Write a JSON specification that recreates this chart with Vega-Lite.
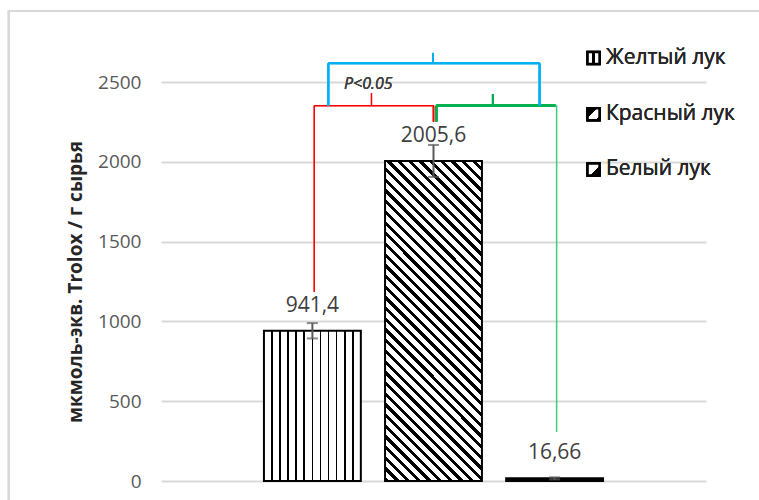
{
  "$schema": "https://vega.github.io/schema/vega-lite/v6.json",
  "width": 545,
  "height": 399,
  "autosize": {"type": "none"},
  "padding": {"left": 161, "top": 82, "right": 53, "bottom": 19},
  "background": "white",
  "config": {
    "font": "Open Sans",
    "view": {"stroke": null},
    "axisX": {"disable": true},
    "locale": {"number": {"decimal": ",", "thousands": "", "grouping": [3], "currency": ["", ""]}}
  },
  "data": {
    "values": [
      {"name": "Желтый лук", "value": 941.4, "lo": 893.4, "hi": 989.4},
      {"name": "Красный лук", "value": 2005.6, "lo": 1905.6, "hi": 2105.6},
      {"name": "Белый лук", "value": 16.66, "lo": 10, "hi": 23}
    ]
  },
  "layer": [
    {
      "mark": {"type": "rect", "fill": null, "stroke": "#d9d9d9", "strokeWidth": 2},
      "encoding": {
        "x": {"datum": "Желтый лук", "bandPosition": -2.634},
        "x2": {"datum": "Белый лук", "bandPosition": 2.9},
        "y": {"datum": 2945},
        "y2": {"datum": -400}
      }
    },
    {
      "mark": {"type": "bar", "strokeWidth": 2, "stroke": "#000000"},
      "encoding": {
        "x": {"field": "name", "type": "nominal", "sort": null,
              "scale": {"domain": ["Желтый лук", "Красный лук", "Белый лук"], "paddingInner": 0.2, "paddingOuter": 0.85},
              "axis": null},
        "y": {"field": "value", "type": "quantitative",
              "scale": {"domain": [0, 2500], "nice": false},
              "axis": {"values": [0, 500, 1000, 1500, 2000, 2500], "format": "d", "domain": false, "ticks": false,
                       "labelFontSize": 19, "labelColor": "#595959", "labelPadding": 20,
                       "grid": true, "gridColor": "#d9d9d9", "gridWidth": 2,
                       "title": "мкмоль-экв. Trolox / г сырья", "titleFontSize": 19, "titleFontWeight": "bold",
                       "titleColor": "#262626", "titlePadding": 12}},
        "fill": {
          "condition": [
            {"test": "datum.name === 'Желтый лук'", "value": {"gradient": "linear", "x1": 0, "y1": 0, "x2": 1, "y2": 0, "stops": [
              {"offset": 0, "color": "#ffffff"},
              {"offset": 0.0743, "color": "#ffffff"}, {"offset": 0.0743, "color": "#000000"}, {"offset": 0.0923, "color": "#000000"}, {"offset": 0.0923, "color": "#ffffff"},
              {"offset": 0.1577, "color": "#ffffff"}, {"offset": 0.1577, "color": "#000000"}, {"offset": 0.1757, "color": "#000000"}, {"offset": 0.1757, "color": "#ffffff"},
              {"offset": 0.2410, "color": "#ffffff"}, {"offset": 0.2410, "color": "#000000"}, {"offset": 0.2590, "color": "#000000"}, {"offset": 0.2590, "color": "#ffffff"},
              {"offset": 0.3243, "color": "#ffffff"}, {"offset": 0.3243, "color": "#000000"}, {"offset": 0.3423, "color": "#000000"}, {"offset": 0.3423, "color": "#ffffff"},
              {"offset": 0.4077, "color": "#ffffff"}, {"offset": 0.4077, "color": "#000000"}, {"offset": 0.4257, "color": "#000000"}, {"offset": 0.4257, "color": "#ffffff"},
              {"offset": 0.4910, "color": "#ffffff"}, {"offset": 0.4910, "color": "#000000"}, {"offset": 0.5090, "color": "#000000"}, {"offset": 0.5090, "color": "#ffffff"},
              {"offset": 0.5743, "color": "#ffffff"}, {"offset": 0.5743, "color": "#000000"}, {"offset": 0.5923, "color": "#000000"}, {"offset": 0.5923, "color": "#ffffff"},
              {"offset": 0.6577, "color": "#ffffff"}, {"offset": 0.6577, "color": "#000000"}, {"offset": 0.6757, "color": "#000000"}, {"offset": 0.6757, "color": "#ffffff"},
              {"offset": 0.7410, "color": "#ffffff"}, {"offset": 0.7410, "color": "#000000"}, {"offset": 0.7590, "color": "#000000"}, {"offset": 0.7590, "color": "#ffffff"},
              {"offset": 0.8243, "color": "#ffffff"}, {"offset": 0.8243, "color": "#000000"}, {"offset": 0.8423, "color": "#000000"}, {"offset": 0.8423, "color": "#ffffff"},
              {"offset": 0.9077, "color": "#ffffff"}, {"offset": 0.9077, "color": "#000000"}, {"offset": 0.9257, "color": "#000000"}, {"offset": 0.9257, "color": "#ffffff"},
              {"offset": 1, "color": "#ffffff"}]}},
            {"test": "datum.name === 'Красный лук'", "value": {"gradient": "linear", "x1": 0, "y1": 1, "x2": 0.3616, "y2": -0.1934, "stops": [
              {"offset": 0, "color": "#000000"}, {"offset": 0.01026, "color": "#000000"}, {"offset": 0.01026, "color": "#ffffff"}, {"offset": 0.02564, "color": "#ffffff"},
              {"offset": 0.02564, "color": "#000000"}, {"offset": 0.03590, "color": "#000000"}, {"offset": 0.03590, "color": "#ffffff"}, {"offset": 0.05128, "color": "#ffffff"},
              {"offset": 0.05128, "color": "#000000"}, {"offset": 0.06154, "color": "#000000"}, {"offset": 0.06154, "color": "#ffffff"}, {"offset": 0.07692, "color": "#ffffff"},
              {"offset": 0.07692, "color": "#000000"}, {"offset": 0.08718, "color": "#000000"}, {"offset": 0.08718, "color": "#ffffff"}, {"offset": 0.10256, "color": "#ffffff"},
              {"offset": 0.10256, "color": "#000000"}, {"offset": 0.11282, "color": "#000000"}, {"offset": 0.11282, "color": "#ffffff"}, {"offset": 0.12821, "color": "#ffffff"},
              {"offset": 0.12821, "color": "#000000"}, {"offset": 0.13846, "color": "#000000"}, {"offset": 0.13846, "color": "#ffffff"}, {"offset": 0.15385, "color": "#ffffff"},
              {"offset": 0.15385, "color": "#000000"}, {"offset": 0.16410, "color": "#000000"}, {"offset": 0.16410, "color": "#ffffff"}, {"offset": 0.17949, "color": "#ffffff"},
              {"offset": 0.17949, "color": "#000000"}, {"offset": 0.18974, "color": "#000000"}, {"offset": 0.18974, "color": "#ffffff"}, {"offset": 0.20513, "color": "#ffffff"},
              {"offset": 0.20513, "color": "#000000"}, {"offset": 0.21538, "color": "#000000"}, {"offset": 0.21538, "color": "#ffffff"}, {"offset": 0.23077, "color": "#ffffff"},
              {"offset": 0.23077, "color": "#000000"}, {"offset": 0.24103, "color": "#000000"}, {"offset": 0.24103, "color": "#ffffff"}, {"offset": 0.25641, "color": "#ffffff"},
              {"offset": 0.25641, "color": "#000000"}, {"offset": 0.26667, "color": "#000000"}, {"offset": 0.26667, "color": "#ffffff"}, {"offset": 0.28205, "color": "#ffffff"},
              {"offset": 0.28205, "color": "#000000"}, {"offset": 0.29231, "color": "#000000"}, {"offset": 0.29231, "color": "#ffffff"}, {"offset": 0.30769, "color": "#ffffff"},
              {"offset": 0.30769, "color": "#000000"}, {"offset": 0.31795, "color": "#000000"}, {"offset": 0.31795, "color": "#ffffff"}, {"offset": 0.33333, "color": "#ffffff"},
              {"offset": 0.33333, "color": "#000000"}, {"offset": 0.34359, "color": "#000000"}, {"offset": 0.34359, "color": "#ffffff"}, {"offset": 0.35897, "color": "#ffffff"},
              {"offset": 0.35897, "color": "#000000"}, {"offset": 0.36923, "color": "#000000"}, {"offset": 0.36923, "color": "#ffffff"}, {"offset": 0.38462, "color": "#ffffff"},
              {"offset": 0.38462, "color": "#000000"}, {"offset": 0.39487, "color": "#000000"}, {"offset": 0.39487, "color": "#ffffff"}, {"offset": 0.41026, "color": "#ffffff"},
              {"offset": 0.41026, "color": "#000000"}, {"offset": 0.42051, "color": "#000000"}, {"offset": 0.42051, "color": "#ffffff"}, {"offset": 0.43590, "color": "#ffffff"},
              {"offset": 0.43590, "color": "#000000"}, {"offset": 0.44615, "color": "#000000"}, {"offset": 0.44615, "color": "#ffffff"}, {"offset": 0.46154, "color": "#ffffff"},
              {"offset": 0.46154, "color": "#000000"}, {"offset": 0.47179, "color": "#000000"}, {"offset": 0.47179, "color": "#ffffff"}, {"offset": 0.48718, "color": "#ffffff"},
              {"offset": 0.48718, "color": "#000000"}, {"offset": 0.49744, "color": "#000000"}, {"offset": 0.49744, "color": "#ffffff"}, {"offset": 0.51282, "color": "#ffffff"},
              {"offset": 0.51282, "color": "#000000"}, {"offset": 0.52308, "color": "#000000"}, {"offset": 0.52308, "color": "#ffffff"}, {"offset": 0.53846, "color": "#ffffff"},
              {"offset": 0.53846, "color": "#000000"}, {"offset": 0.54872, "color": "#000000"}, {"offset": 0.54872, "color": "#ffffff"}, {"offset": 0.56410, "color": "#ffffff"},
              {"offset": 0.56410, "color": "#000000"}, {"offset": 0.57436, "color": "#000000"}, {"offset": 0.57436, "color": "#ffffff"}, {"offset": 0.58974, "color": "#ffffff"},
              {"offset": 0.58974, "color": "#000000"}, {"offset": 0.60000, "color": "#000000"}, {"offset": 0.60000, "color": "#ffffff"}, {"offset": 0.61538, "color": "#ffffff"},
              {"offset": 0.61538, "color": "#000000"}, {"offset": 0.62564, "color": "#000000"}, {"offset": 0.62564, "color": "#ffffff"}, {"offset": 0.64103, "color": "#ffffff"},
              {"offset": 0.64103, "color": "#000000"}, {"offset": 0.65128, "color": "#000000"}, {"offset": 0.65128, "color": "#ffffff"}, {"offset": 0.66667, "color": "#ffffff"},
              {"offset": 0.66667, "color": "#000000"}, {"offset": 0.67692, "color": "#000000"}, {"offset": 0.67692, "color": "#ffffff"}, {"offset": 0.69231, "color": "#ffffff"},
              {"offset": 0.69231, "color": "#000000"}, {"offset": 0.70256, "color": "#000000"}, {"offset": 0.70256, "color": "#ffffff"}, {"offset": 0.71795, "color": "#ffffff"},
              {"offset": 0.71795, "color": "#000000"}, {"offset": 0.72821, "color": "#000000"}, {"offset": 0.72821, "color": "#ffffff"}, {"offset": 0.74359, "color": "#ffffff"},
              {"offset": 0.74359, "color": "#000000"}, {"offset": 0.75385, "color": "#000000"}, {"offset": 0.75385, "color": "#ffffff"}, {"offset": 0.76923, "color": "#ffffff"},
              {"offset": 0.76923, "color": "#000000"}, {"offset": 0.77949, "color": "#000000"}, {"offset": 0.77949, "color": "#ffffff"}, {"offset": 0.79487, "color": "#ffffff"},
              {"offset": 0.79487, "color": "#000000"}, {"offset": 0.80513, "color": "#000000"}, {"offset": 0.80513, "color": "#ffffff"}, {"offset": 0.82051, "color": "#ffffff"},
              {"offset": 0.82051, "color": "#000000"}, {"offset": 0.83077, "color": "#000000"}, {"offset": 0.83077, "color": "#ffffff"}, {"offset": 0.84615, "color": "#ffffff"},
              {"offset": 0.84615, "color": "#000000"}, {"offset": 0.85641, "color": "#000000"}, {"offset": 0.85641, "color": "#ffffff"}, {"offset": 0.87179, "color": "#ffffff"},
              {"offset": 0.87179, "color": "#000000"}, {"offset": 0.88205, "color": "#000000"}, {"offset": 0.88205, "color": "#ffffff"}, {"offset": 0.89744, "color": "#ffffff"},
              {"offset": 0.89744, "color": "#000000"}, {"offset": 0.90769, "color": "#000000"}, {"offset": 0.90769, "color": "#ffffff"}, {"offset": 0.92308, "color": "#ffffff"},
              {"offset": 0.92308, "color": "#000000"}, {"offset": 0.93333, "color": "#000000"}, {"offset": 0.93333, "color": "#ffffff"}, {"offset": 0.94872, "color": "#ffffff"},
              {"offset": 0.94872, "color": "#000000"}, {"offset": 0.95897, "color": "#000000"}, {"offset": 0.95897, "color": "#ffffff"}, {"offset": 0.97436, "color": "#ffffff"},
              {"offset": 0.97436, "color": "#000000"}, {"offset": 0.98462, "color": "#000000"}, {"offset": 0.98462, "color": "#ffffff"}, {"offset": 1, "color": "#ffffff"}]}}
          ],
          "value": "#000000"
        }
      }
    },
    {
      "mark": {"type": "rule", "color": "#595959", "strokeWidth": 2},
      "encoding": {
        "x": {"field": "name", "type": "nominal"},
        "y": {"field": "lo", "type": "quantitative"},
        "y2": {"field": "hi"}
      }
    },
    {
      "mark": {"type": "tick", "color": "#595959", "size": 11, "thickness": 2, "orient": "horizontal"},
      "encoding": {
        "x": {"field": "name", "type": "nominal"},
        "y": {"field": "lo", "type": "quantitative"}
      }
    },
    {
      "mark": {"type": "tick", "color": "#595959", "size": 11, "thickness": 2, "orient": "horizontal"},
      "encoding": {
        "x": {"field": "name", "type": "nominal"},
        "y": {"field": "hi", "type": "quantitative"}
      }
    },
    {
      "mark": {"type": "text", "fontSize": 21, "color": "#404040", "baseline": "middle", "dy": -25},
      "encoding": {
        "x": {"field": "name", "type": "nominal"},
        "y": {"field": "value", "type": "quantitative"},
        "text": {"field": "value", "type": "quantitative", "format": ".5~r"}
      }
    },
    {
      "mark": {"type": "rule", "color": "#ff0000", "strokeWidth": 1.2},
      "encoding": {"x": {"datum": "Желтый лук", "bandPosition": 0.52}, "y": {"datum": 1186}, "y2": {"datum": 2352}}
    },
    {
      "mark": {"type": "rule", "color": "#ff0000", "strokeWidth": 1.2},
      "encoding": {"x": {"datum": "Желтый лук", "bandPosition": 0.52}, "x2": {"datum": "Красный лук", "bandPosition": 0.5}, "y": {"datum": 2352}}
    },
    {
      "mark": {"type": "rule", "color": "#ff0000", "strokeWidth": 1.5},
      "encoding": {"x": {"datum": "Красный лук", "bandPosition": 0.5}, "y": {"datum": 2251}, "y2": {"datum": 2352}}
    },
    {
      "mark": {"type": "rule", "color": "#ff0000", "strokeWidth": 1.2},
      "encoding": {"x": {"datum": "Желтый лук", "bandPosition": 1.11}, "y": {"datum": 2352}, "y2": {"datum": 2431}}
    },
    {
      "mark": {"type": "rule", "color": "#00b050", "strokeWidth": 2.5},
      "encoding": {"x": {"datum": "Красный лук", "bandPosition": 0.53}, "x2": {"datum": "Белый лук", "bandPosition": 0.51}, "y": {"datum": 2352}}
    },
    {
      "mark": {"type": "rule", "color": "#00b050", "strokeWidth": 2.5},
      "encoding": {"x": {"datum": "Красный лук", "bandPosition": 0.53}, "y": {"datum": 2251}, "y2": {"datum": 2352}}
    },
    {
      "mark": {"type": "rule", "color": "#00b050", "strokeWidth": 2},
      "encoding": {"x": {"datum": "Красный лук", "bandPosition": 1.113}, "y": {"datum": 2352}, "y2": {"datum": 2425}}
    },
    {
      "mark": {"type": "rule", "color": "#3fcf7a", "strokeWidth": 1.2},
      "encoding": {"x": {"datum": "Белый лук", "bandPosition": 0.52}, "y": {"datum": 309}, "y2": {"datum": 2352}}
    },
    {
      "mark": {"type": "rule", "color": "#00b0f0", "strokeWidth": 2},
      "encoding": {"x": {"datum": "Желтый лук", "bandPosition": 0.665}, "x2": {"datum": "Белый лук", "bandPosition": 0.345}, "y": {"datum": 2617}}
    },
    {
      "mark": {"type": "rule", "color": "#00b0f0", "strokeWidth": 2},
      "encoding": {"x": {"datum": "Желтый лук", "bandPosition": 0.665}, "y": {"datum": 2352}, "y2": {"datum": 2617}}
    },
    {
      "mark": {"type": "rule", "color": "#00b0f0", "strokeWidth": 2},
      "encoding": {"x": {"datum": "Белый лук", "bandPosition": 0.345}, "y": {"datum": 2352}, "y2": {"datum": 2617}}
    },
    {
      "mark": {"type": "rule", "color": "#00b0f0", "strokeWidth": 2},
      "encoding": {"x": {"datum": "Красный лук", "bandPosition": 0.495}, "y": {"datum": 2617}, "y2": {"datum": 2682}}
    },
    {
      "mark": {"type": "text", "fontSize": 16, "fontStyle": "italic", "fontWeight": "normal", "color": "#404040", "baseline": "middle", "align": "center"},
      "encoding": {"x": {"datum": "Желтый лук", "bandPosition": 1.077}, "y": {"datum": 2488}, "text": {"value": "P<0.05"}}
    },
    {
      "mark": {"type": "point", "shape": "square", "size": 144, "filled": true, "opacity": 1, "stroke": "#000000", "strokeWidth": 2.5,
               "fill": {"gradient": "linear", "x1": 0, "y1": 0, "x2": 1, "y2": 0, "stops": [
                 {"offset": 0, "color": "#ffffff"}, {"offset": 0.4, "color": "#ffffff"}, {"offset": 0.4, "color": "#000000"},
                 {"offset": 0.6, "color": "#000000"}, {"offset": 0.6, "color": "#ffffff"}, {"offset": 1, "color": "#ffffff"}]}},
      "encoding": {"x": {"datum": "Белый лук", "bandPosition": 0.902}, "y": {"datum": 2650}}
    },
    {
      "mark": {"type": "point", "shape": "square", "size": 144, "filled": true, "opacity": 1, "stroke": "#000000", "strokeWidth": 2.5,
               "fill": {"gradient": "linear", "x1": 0, "y1": 0, "x2": 1, "y2": 1, "stops": [
                 {"offset": 0, "color": "#000000"}, {"offset": 0.42, "color": "#000000"}, {"offset": 0.42, "color": "#ffffff"},
                 {"offset": 0.82, "color": "#ffffff"}, {"offset": 0.82, "color": "#000000"}, {"offset": 1, "color": "#000000"}]}},
      "encoding": {"x": {"datum": "Белый лук", "bandPosition": 0.902}, "y": {"datum": 2298}}
    },
    {
      "mark": {"type": "point", "shape": "square", "size": 144, "filled": true, "opacity": 1, "stroke": "#000000", "strokeWidth": 2.5,
               "fill": {"gradient": "linear", "x1": 0, "y1": 0, "x2": 1, "y2": 1, "stops": [
                 {"offset": 0, "color": "#ffffff"}, {"offset": 0.62, "color": "#ffffff"}, {"offset": 0.62, "color": "#000000"}, {"offset": 1, "color": "#000000"}]}},
      "encoding": {"x": {"datum": "Белый лук", "bandPosition": 0.902}, "y": {"datum": 1952}}
    },
    {
      "mark": {"type": "text", "fontSize": 21, "color": "#262626", "align": "left", "baseline": "middle"},
      "encoding": {"x": {"datum": "Белый лук", "bandPosition": 1.03}, "y": {"datum": 2650}, "text": {"value": "Желтый лук"}}
    },
    {
      "mark": {"type": "text", "fontSize": 21, "color": "#262626", "align": "left", "baseline": "middle"},
      "encoding": {"x": {"datum": "Белый лук", "bandPosition": 1.03}, "y": {"datum": 2298}, "text": {"value": "Красный лук"}}
    },
    {
      "mark": {"type": "text", "fontSize": 21, "color": "#262626", "align": "left", "baseline": "middle"},
      "encoding": {"x": {"datum": "Белый лук", "bandPosition": 1.03}, "y": {"datum": 1952}, "text": {"value": "Белый лук"}}
    }
  ]
}
